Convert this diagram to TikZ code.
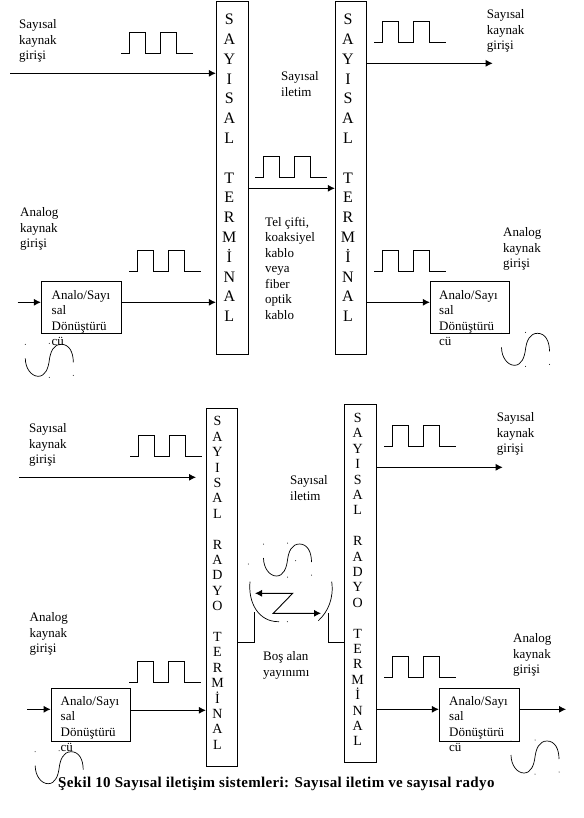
\documentclass[tikz,border=0pt]{standalone}
\usepackage{fontspec}
\setmainfont{Liberation Serif}
\usetikzlibrary{arrows.meta}
\tikzset{
  boxn/.style={draw,line width=0.9pt,minimum width=#1,inner sep=0pt},
  lbl/.style={anchor=north west,inner sep=0pt,align=left,font=\fontsize{13}{15.5}\selectfont},
  ltrA/.style={anchor=north,inner sep=0pt,align=center,font=\fontsize{16}{19.8}\selectfont},
  ltrB/.style={anchor=north,inner sep=0pt,align=center,font=\fontsize{14}{15.4}\selectfont},
  lnk/.style={line width=0.9pt},
  arr/.style={line width=0.9pt,-{Latex[length=7pt,width=7pt]}},
  sig/.style={line width=0.9pt},
  wav/.style={line width=0.7pt},
}
\newcommand{\pulsetrain}[2]{\draw[sig] (#1,#2) -- ++(8.5,0) -- ++(0,-21) -- ++(15.5,0) -- ++(0,21) -- ++(15.5,0) -- ++(0,-21) -- ++(16,0) -- ++(0,21) -- ++(16.5,0);}
\newcommand{\sinewave}[2]{%
  \draw[wav,shift={(#1,#2)}] (0,14) .. controls (0,24) and (6,32) .. (13,32) .. controls (20,32) and (23,24) .. (24,16) .. controls (25,8) and (28,0) .. (36,0) .. controls (44,0) and (48,8) .. (48,18);
  \fill[shift={(#1,#2)}] (0,0) circle (0.5) (24,-1) circle (0.5) (24,33) circle (0.5) (48,31) circle (0.5);}
\begin{document}
\begin{tikzpicture}[x=1pt,y=-1pt]
\useasboundingbox (0,0) rectangle (583,818);
% terminals
\node[boxn=32pt,minimum height=352.5pt] (T1) at (232.3,177.7) {};
\node[boxn=31pt,minimum height=352.5pt] (T2) at (350.8,177.7) {};
\node[boxn=31.4pt,minimum height=358pt] (T3) at (222,587.3) {};
\node[boxn=32pt,minimum height=358pt] (T4) at (360.3,583.3) {};
\node[ltrA] (L1) at (229.3,14) {S\\A\\Y\\I\\S\\A\\L\\~\\T\\E\\R\\M\\İ\\N\\A\\L};
\node[ltrA] (L2) at (348,14) {S\\A\\Y\\I\\S\\A\\L\\~\\T\\E\\R\\M\\İ\\N\\A\\L};
\node[ltrB] (L3) at (217.5,416.5) {S\\A\\Y\\I\\S\\A\\L\\~\\R\\A\\D\\Y\\O\\~\\T\\E\\R\\M\\İ\\N\\A\\L};
\node[ltrB] (L4) at (357.7,413) {S\\A\\Y\\I\\S\\A\\L\\~\\R\\A\\D\\Y\\O\\~\\T\\E\\R\\M\\İ\\N\\A\\L};
% converters
\node[boxn=80pt,minimum height=52pt] (C1) at (81.3,307.3) {};
\node[boxn=79pt,minimum height=52pt] (C2) at (469.8,307.3) {};
\node[boxn=79.3pt,minimum height=53pt] (C3) at (90.7,714.8) {};
\node[boxn=80.4pt,minimum height=53pt] (C4) at (479.5,714.8) {};
\node[lbl] (C1t) at (51.5,290) {Analo/Sayı\\sal\\Dönüştürü\\cü};
\node[lbl] (C2t) at (439,290) {Analo/Sayı\\sal\\Dönüştürü\\cü};
\node[lbl] (C3t) at (60.5,696) {Analo/Sayı\\sal\\Dönüştürü\\cü};
\node[lbl] (C4t) at (449,696) {Analo/Sayı\\sal\\Dönüştürü\\cü};
% labels
\node[lbl] (a) at (19,19.5) {Sayısal\\kaynak\\girişi};
\node[lbl] (b) at (20,207.5) {Analog\\kaynak\\girişi};
\node[lbl] (c) at (281,71.5) {Sayısal\\iletim};
\node[lbl] (d) at (265,217) {Tel çifti,\\koaksiyel\\kablo\\veya\\fiber\\optik\\kablo};
\node[lbl] (e) at (486.7,9.5) {Sayısal\\kaynak\\girişi};
\node[lbl] (f) at (503,227.5) {Analog\\kaynak\\girişi};
\node[lbl] (g) at (29,423.5) {Sayısal\\kaynak\\girişi};
\node[lbl] (h) at (29.5,612.5) {Analog\\kaynak\\girişi};
\node[lbl] (i) at (290,475.5) {Sayısal\\iletim};
\node[lbl] (j) at (263,651.5) {Boş alan\\yayınımı};
\node[lbl] (k) at (496.7,412.5) {Sayısal\\kaynak\\girişi};
\node[lbl] (l) at (513,633.5) {Analog\\kaynak\\girişi};
\node[anchor=base west,inner sep=0pt,font=\fontsize{15}{16}\selectfont\bfseries\addfontfeature{LetterSpace=2.3}] (cap) at (58,787) {Şekil 10 Sayısal iletişim sistemleri: Sayısal iletim ve sayısal radyo};
% pulses
\pulsetrain{121}{53.3}
\pulsetrain{129}{271.3}
\pulsetrain{255}{177.3}
\pulsetrain{374}{42.3}
\pulsetrain{374}{271.3}
\pulsetrain{130}{456.3}
\pulsetrain{129}{682.3}
\pulsetrain{384}{446.3}
\pulsetrain{384}{677.3}
% sine waves
\sinewave{25.3}{344.3}
\sinewave{501.5}{333.3}
\sinewave{35.2}{751.7}
\sinewave{511}{741}
\sinewave{263.5}{544}
\fill (248.3,564) circle (0.5) (295.7,560.7) circle (0.5) (287.3,621.7) circle (0.5);
% free ends
\coordinate (p1) at (10,73.3);
\coordinate (p2) at (17.7,302.3);
\coordinate (p3) at (248,188.3);
\coordinate (p4) at (492.7,63.3);
\coordinate (p5) at (366,302.3);
\coordinate (p6) at (19,477.3);
\coordinate (p6e) at (196,477.3);
\coordinate (p7) at (27,709.3);
\coordinate (p8) at (130,710.3);
\coordinate (p9) at (502.7,467.3);
\coordinate (p10) at (376,709.3);
\coordinate (p11) at (566,709.3);
% connectors
\draw[arr] (p1) -- (p1 -| T1.west);
\draw[arr] (p2) -- (p2 -| C1.west);
\draw[arr] (p2 -| C1.east) -- (p2 -| T1.west);
\draw[arr] (p3 -| T1.east) -- (p3 -| T2.west);
\draw[arr] (p4 -| T2.east) -- (p4);
\draw[arr] (p5 -| T2.east) -- (p5 -| C2.west);
\draw[arr] (p6) -- (p6e);
\draw[arr] (p7) -- (p7 -| C3.west);
\draw[arr] (p8 -| C3.east) -- (p8 -| T3.west);
\draw[arr] (p9 -| T4.east) -- (p9);
\draw[arr] (p10 -| T4.east) -- (p10 -| C4.west);
\draw[arr] (p10 -| C4.east) -- (p11);
% antennas and radio path
\coordinate (q1) at (254.7,642);
\coordinate (q2) at (254.7,612.3);
\coordinate (q3) at (328.3,642);
\coordinate (q4) at (328.3,613);
\draw[lnk] (q1 -| T3.east) -- (q1) -- (q2);
\draw[lnk] (q3 -| T4.west) -- (q3) -- (q4);
\draw[wav] (250,581.7) .. controls (248,602) and (258,622) .. (279,621.7);
\draw[wav] (331.7,581.7) .. controls (334,598) and (328,612) .. (318.3,620.7);
\coordinate (z1) at (255,593.3);
\coordinate (z2) at (292.7,593.3);
\coordinate (z3) at (273.3,613.3);
\coordinate (z4) at (321,613.3);
\draw[line width=0.9pt,{Latex[length=7pt,width=7pt]}-{Latex[length=7pt,width=7pt]}] (z1) -- (z2) -- (z3) -- (z4);
\end{tikzpicture}
\end{document}
